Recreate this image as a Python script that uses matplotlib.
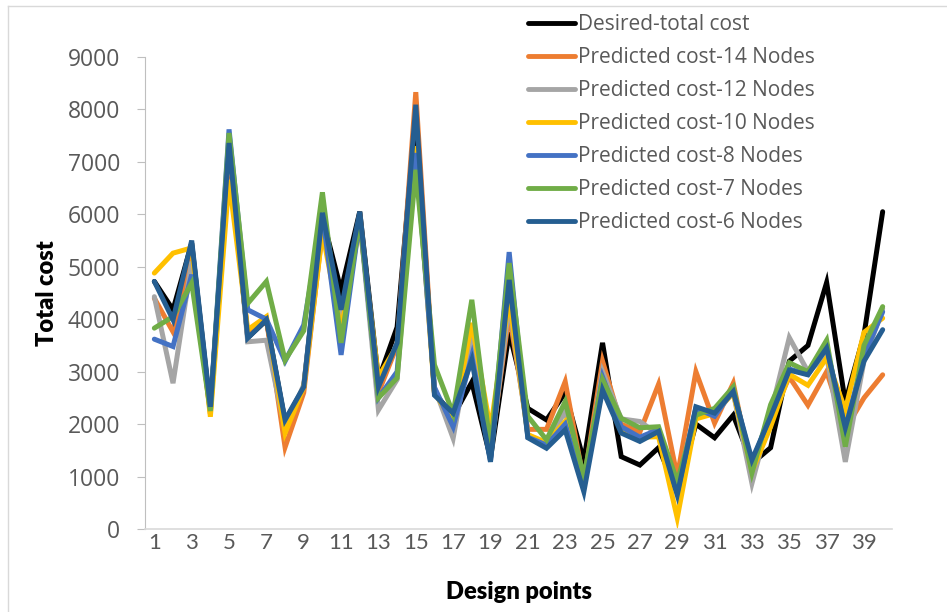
import matplotlib
matplotlib.use("Agg")
import matplotlib.pyplot as plt
from matplotlib.lines import Line2D

# Design point index and cost per series
points = list(range(1, 41))

desired = [4720, 4180, 5450, 2280, 7300, 3650, 3980, 2050, 2700, 5950,
           4550, 6050, 2850, 3850, 7900, 2600, 2150, 2800, 1350, 3750,
           2300, 2080, 2600, 1300, 3550, 1380, 1220, 1550, 700, 2000,
           1740, 2170, 1250, 1550, 3200, 3500, 4700, 2420, 3700, 6050]

nodes14 = [4400, 3760, 5200, 2200, 7300, 3700, 4000, 1560, 2600, 5700,
           4100, 6000, 2600, 3500, 8330, 2600, 2100, 3500, 1500, 4100,
           1900, 1900, 2810, 900, 3200, 2000, 1850, 2760, 1000, 3000,
           2020, 2780, 1050, 2100, 2900, 2360, 3000, 1900, 2500, 2940]

nodes12 = [4430, 2780, 5100, 2250, 7400, 3570, 3600, 1900, 2750, 5800,
           3900, 5900, 2270, 2850, 7300, 2700, 1730, 3700, 1400, 4300,
           1800, 1600, 2250, 800, 3000, 2100, 2050, 1800, 800, 2300,
           2200, 2600, 870, 2200, 3650, 3000, 3300, 1280, 3200, 4200]

nodes10 = [4880, 5260, 5360, 2140, 6650, 3800, 4050, 1830, 2700, 5650,
           3800, 5800, 2900, 3500, 7300, 2600, 2050, 3930, 1900, 4400,
           1800, 1650, 2050, 850, 2700, 1900, 1750, 1760, 210, 2100,
           2200, 2600, 1100, 1950, 2950, 2740, 3260, 2270, 3750, 4020]

nodes8 = [3620, 3480, 4850, 2300, 7620, 4180, 4000, 3200, 3890, 6000,
          3320, 5900, 2500, 3000, 7170, 2700, 1950, 3300, 1300, 5280,
          1750, 1600, 2000, 800, 2900, 1950, 1750, 1900, 700, 2300,
          2150, 2650, 1250, 2200, 3050, 2950, 3450, 1900, 3300, 4140]

nodes7 = [3830, 4050, 4690, 2250, 7550, 4300, 4720, 3220, 3780, 6420,
          3550, 5950, 2500, 2880, 6850, 3130, 2200, 4370, 1550, 5070,
          2150, 1700, 2430, 1000, 2850, 2110, 1930, 1950, 900, 2170,
          2300, 2710, 1070, 2370, 3170, 3000, 3600, 1570, 3500, 4240]

nodes6 = [4720, 3990, 5500, 2330, 7360, 3640, 3990, 2080, 2710, 6030,
          4180, 6050, 2710, 3550, 8090, 2550, 2210, 3220, 1280, 4750,
          1740, 1540, 1890, 710, 2650, 1830, 1670, 1860, 650, 2330,
          2210, 2620, 1320, 2140, 3030, 2940, 3450, 1930, 3200, 3800]

labels = ["Desired-total cost", "Predicted cost-14 Nodes", "Predicted cost-12 Nodes",
          "Predicted cost-10 Nodes", "Predicted cost-8 Nodes", "Predicted cost-7 Nodes",
          "Predicted cost-6 Nodes"]
colors = ["#000000", "#ED7D31", "#A5A5A5", "#FFC000", "#4472C4", "#70AD47", "#255E91"]
series = [desired, nodes14, nodes12, nodes10, nodes8, nodes7, nodes6]

fig = plt.figure(figsize=(9.47, 6.12), dpi=100)
ax = fig.add_axes([145 / 947, 1 - 529 / 612, (892 - 145) / 947, (529 - 57) / 612])

for vals, col, lab in zip(series, colors, labels):
    ax.plot(points, vals, color=col, lw=3.6, label=lab,
            solid_joinstyle="miter", solid_capstyle="round")

ax.set_xlim(0.5, 40.5)
ax.set_ylim(0, 9000)
ax.set_yticks(range(0, 9001, 1000))
ax.set_xticks(range(1, 41, 2))

tick_col = "#595959"
for s in ["top", "right"]:
    ax.spines[s].set_visible(False)
ax.spines["left"].set_color("#BFBFBF")
ax.spines["bottom"].set_color("#D9D9D9")
ax.spines["bottom"].set_linewidth(1.2)
ax.tick_params(axis="y", length=6, color="#BFBFBF", pad=12, labelsize=16.5,
               labelcolor=tick_col)
ax.tick_params(axis="x", length=0, pad=3, labelsize=16, labelcolor=tick_col)
for t in ax.get_yticklabels():
    t.set_family(["Open Sans", "DejaVu Sans"])
for t in ax.get_xticklabels():
    t.set_family(["Lato", "DejaVu Sans"])

ax.set_ylabel("Total cost", fontsize=17, fontweight="heavy",
              family=["Lato", "DejaVu Sans"], labelpad=7)
ax.set_xlabel("Design points", fontsize=17, fontweight="heavy",
              family=["Lato", "DejaVu Sans"], labelpad=20)

leg = ax.legend(loc="upper left", bbox_to_anchor=(528 / 947, 1 - 14 / 612),
                bbox_transform=fig.transFigure, frameon=False,
                prop={"family": ["Open Sans", "DejaVu Sans"], "size": 15},
                handlelength=2.25, handletextpad=0.15, labelspacing=0.58,
                borderpad=0, borderaxespad=0)
for h in leg.get_lines():
    h.set_linewidth(3.5)
for t in leg.get_texts():
    t.set_color(tick_col)

# chart area border
fig.add_artist(Line2D([8 / 947, 8 / 947], [0, 1 - 6 / 612], color="#D9D9D9",
                      lw=1, transform=fig.transFigure))
fig.add_artist(Line2D([8 / 947, 1], [1 - 6 / 612, 1 - 6 / 612], color="#D9D9D9",
                      lw=1, transform=fig.transFigure))

fig.savefig("out.png", dpi=100)
